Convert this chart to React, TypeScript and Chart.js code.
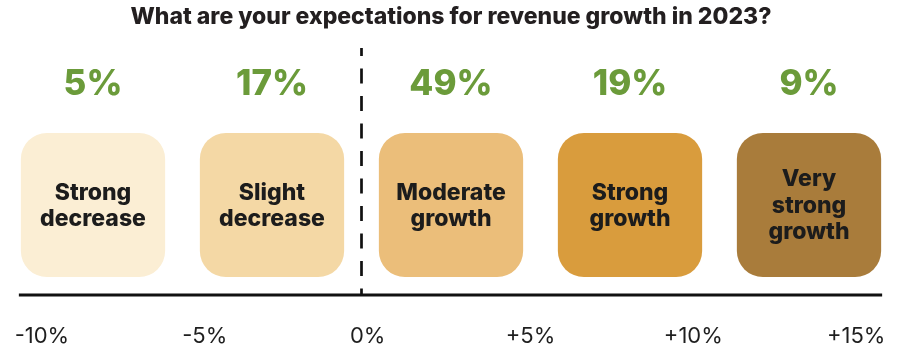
import React, { useEffect, useRef } from 'react';
import { Chart, registerables } from 'chart.js';

Chart.register(...registerables);

// ---- data ----
const title = 'What are your expectations for revenue growth in 2023?';
const categories: string[][] = [
  ['Strong', 'decrease'],
  ['Slight', 'decrease'],
  ['Moderate', 'growth'],
  ['Strong', 'growth'],
  ['Very', 'strong', 'growth'],
];
const shares = [5, 17, 49, 19, 9];
const tickValues = [-10, -5, 0, 5, 10, 15];
const tickLabels = ['-10%', '-5%', '0%', '+5%', '+10%', '+15%'];

// ---- styles ----
const boxColors = ['#FBEED4', '#F4D8A5', '#EBBE7A', '#D99C3D', '#A97C3B'];
const GREEN = '#6B9B3A';
const INK = '#1c1c1c';
const FONT = 'Inter, "Open Sans", "DejaVu Sans", sans-serif';

// layout constants (y units = px above baseline axis)
const BOX_RANGE: [number, number] = [18, 162];
const SHARE_Y = 210.5;
const DASH_TOP = 247;

const overlayPlugin = {
  id: 'overlay',
  afterDatasetsDraw(chart: any) {
    const { ctx } = chart;
    const x = chart.scales.x;
    const y = chart.scales.y;
    const meta = chart.getDatasetMeta(0);
    const bw = meta.data[0].width;
    const y0 = y.getPixelForValue(0);

    ctx.save();
    // baseline axis
    ctx.strokeStyle = '#111';
    ctx.lineWidth = 3;
    ctx.beginPath();
    ctx.moveTo(x.getPixelForValue(0) - bw / 2 - 2, y0);
    ctx.lineTo(x.getPixelForValue(categories.length - 1) + bw / 2 + 1, y0);
    ctx.stroke();

    // dashed zero divider between decrease and growth
    const xd = (x.getPixelForValue(1) + x.getPixelForValue(2)) / 2;
    ctx.lineWidth = 2.7;
    ctx.setLineDash([15, 12.5]);
    ctx.lineDashOffset = 7;
    ctx.beginPath();
    ctx.moveTo(xd, y.getPixelForValue(DASH_TOP));
    ctx.lineTo(xd, y0);
    ctx.stroke();
    ctx.setLineDash([]);

    // shares
    ctx.textAlign = 'center';
    ctx.textBaseline = 'middle';
    ctx.fillStyle = GREEN;
    ctx.font = `800 35px ${FONT}`;
    shares.forEach((s, i) => {
      ctx.fillText(`${s}%`, x.getPixelForValue(i), y.getPixelForValue(SHARE_Y));
    });

    // box labels
    ctx.fillStyle = INK;
    ctx.font = `800 23px ${FONT}`;
    const lh = 26.5;
    const cy = y.getPixelForValue((BOX_RANGE[0] + BOX_RANGE[1]) / 2);
    categories.forEach((lines, i) => {
      const start = cy - ((lines.length - 1) * lh) / 2;
      lines.forEach((ln, j) => {
        ctx.fillText(ln, x.getPixelForValue(i), start + j * lh + 1);
      });
    });
    ctx.restore();
  },
};

export default function App() {
  const ref = useRef<HTMLCanvasElement | null>(null);

  useEffect(() => {
    if (!ref.current) return;
    const chart = new Chart(ref.current, {
      type: 'bar',
      data: {
        labels: categories.map((c) => c.join(' ')),
        datasets: [
          {
            data: categories.map(() => BOX_RANGE) as any,
            backgroundColor: boxColors,
            borderRadius: 26,
            borderSkipped: false,
            borderWidth: 0,
            barPercentage: 0.806,
            categoryPercentage: 1,
            xAxisID: 'x',
            yAxisID: 'y',
          },
        ],
      },
      options: {
        responsive: false,
        animation: false,
        layout: { padding: { left: 3.5, right: 1.5, top: 0, bottom: 0 } },
        plugins: {
          legend: { display: false },
          tooltip: { enabled: false },
          title: {
            display: true,
            text: title,
            color: '#231f20',
            font: { family: FONT, size: 23, weight: '800' as any, lineHeight: 1.2 },
            padding: { top: 3, bottom: 0.5 },
          },
        },
        scales: {
          x: { type: 'category', display: false, offset: true },
          x2: {
            type: 'linear',
            position: 'bottom',
            offset: false,
            min: -11.18,
            max: 16.3,
            grid: { display: false, drawTicks: false, offset: false },
            border: { display: false },
            afterBuildTicks: (s: any) => {
              s.ticks = tickValues.map((v) => ({ value: v }));
            },
            ticks: {
              padding: 2,
              color: '#1e1e1e',
              autoSkip: false,
              maxRotation: 0,
              font: { family: FONT, size: 22, weight: 400 as any, lineHeight: 1.2 },
              callback: (v: any) => tickLabels[tickValues.indexOf(Number(v))] ?? '',
            },
          },
          y: { display: false, min: -26.6, max: 263.9 },
        },
      },
      plugins: [overlayPlugin],
    });
    return () => chart.destroy();
  }, []);

  return (
    <div style={{ position: 'absolute', left: 0, top: 0, width: 900, height: 352, background: '#fff' }}>
      <canvas ref={ref} width={900} height={352} style={{ display: 'block' }} />
    </div>
  );
}
